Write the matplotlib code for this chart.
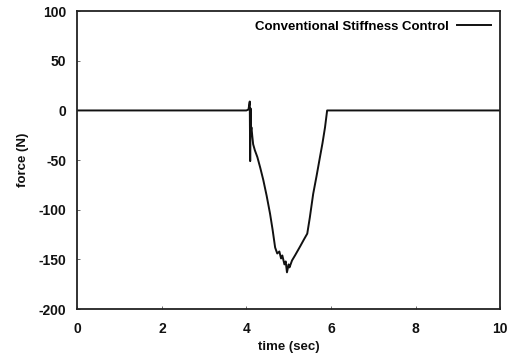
import matplotlib
matplotlib.use("Agg")
import matplotlib.pyplot as plt

plt.rcParams['font.family'] = ['Liberation Sans', 'DejaVu Sans']
plt.rcParams['axes.unicode_minus'] = False

# force trace during the contact
time = [0.0, 4.00, 4.05, 4.08, 4.09, 4.10, 4.11, 4.12, 4.14, 4.16, 4.20, 4.26,
        4.33, 4.40, 4.48, 4.56, 4.62, 4.68, 4.73, 4.78, 4.82, 4.85, 4.90, 4.93, 4.96,
        5.00, 5.02, 5.08, 5.15, 5.27, 5.36, 5.44, 5.50, 5.58, 5.66, 5.74, 5.80,
        5.86, 5.91, 6.0, 10.0]
force = [0.0, 0.0, 1.0, 9.0, -51.0, 2.0, -20.0, -17.0, -26.0, -34.0, -40.0, -47.0,
         -58.0, -70.0, -86.0, -104.0, -120.0, -138.0, -144.0, -142.0, -149.0, -146.0, -155.0, -152.0, -163.0,
         -155.0, -158.0, -151.0, -146.0, -137.0, -130.0, -124.0, -108.0, -84.0, -66.0, -47.0, -33.0,
         -17.0, 0.0, 0.0, 0.0]

fig = plt.figure(figsize=(5.15, 3.59), dpi=100)
ax = fig.add_axes([0.150, 0.139, 0.821, 0.830])

ax.plot(time, force, color='#111111', lw=1.4, label='Conventional Stiffness Control')

ax.set_xlim(0, 10)
ax.set_ylim(-200, 100)
ax.set_xticks([0, 2, 4, 6, 8, 10])
ax.set_yticks([100, 50, 0, -50, -100, -150, -200])
ax.tick_params(direction='in', length=2, width=0.6, colors='#555555',
               labelcolor='#111111', labelsize=10)
ax.tick_params(axis='x', pad=9)
ax.tick_params(axis='y', pad=8)
for lbl in ax.get_xticklabels() + ax.get_yticklabels():
    lbl.set_fontweight('bold')
for s in ax.spines.values():
    s.set_linewidth(1.3)
    s.set_color('#222222')

ax.set_xlabel('time (sec)', fontsize=9.5, fontweight='bold', color='#111111', labelpad=4)
ax.set_ylabel('force (N)', fontsize=9.5, fontweight='bold', color='#111111', labelpad=7)

leg = ax.legend(loc='upper right', frameon=False, markerfirst=False,
                handlelength=2.6, borderaxespad=0.3, handletextpad=0.6,
                prop={'size': 9.5, 'weight': 'bold'})

fig.savefig('out.png', dpi=100)
